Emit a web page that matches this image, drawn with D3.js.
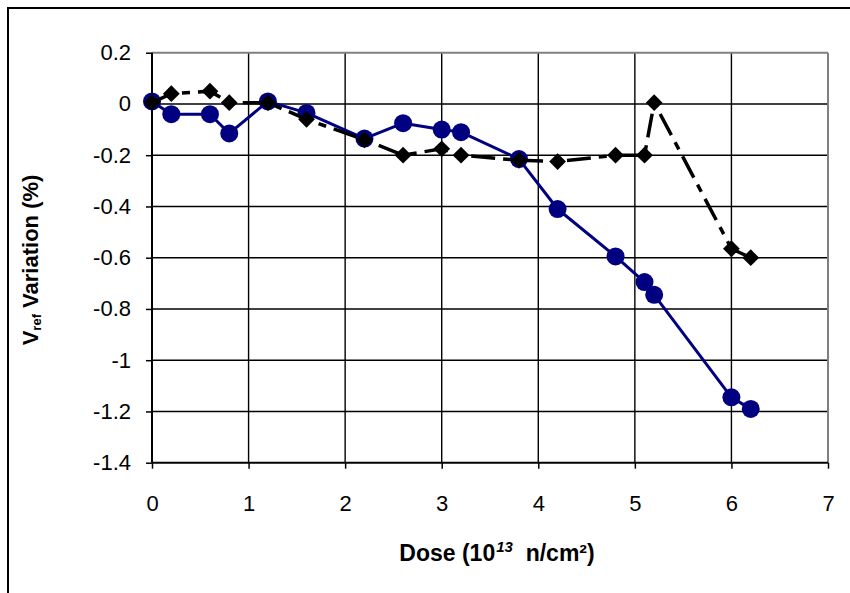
<!DOCTYPE html>
<html>
<head>
<meta charset="utf-8">
<script src="https://cdn.jsdelivr.net/npm/d3@7"></script>
<style>
  html, body { margin: 0; padding: 0; background: #fff; }
  svg { display: block; }
  text { font-family: "Liberation Sans", Arial, sans-serif; fill: #000; }
</style>
</head>
<body>
<svg id="chart" width="850" height="593"></svg>
<script>
// ---- data ----
const doseA = [0, 0.2, 0.6, 0.8, 1.2, 1.6, 2.2, 2.6, 3.0, 3.2, 3.8, 4.2, 4.8, 5.1, 5.2, 6.0, 6.2];
const vrefA = [0.01, -0.04, -0.04, -0.115, 0.01, -0.035, -0.135, -0.075, -0.1, -0.11, -0.215, -0.41, -0.595, -0.695, -0.745, -1.145, -1.19];
const doseB = [0, 0.2, 0.6, 0.8, 1.2, 1.6, 2.2, 2.6, 3.0, 3.2, 3.8, 4.2, 4.8, 5.1, 5.2, 6.0, 6.2];
const vrefB = [0.005, 0.04, 0.05, 0.005, 0.005, -0.06, -0.14, -0.2, -0.175, -0.2, -0.22, -0.225, -0.2, -0.2, 0.005, -0.565, -0.6];
const xTicks = [0, 1, 2, 3, 4, 5, 6, 7];
const yTicks = [0.2, 0, -0.2, -0.4, -0.6, -0.8, -1, -1.2, -1.4];
const yTickLabels = ["0.2", "0", "-0.2", "-0.4", "-0.6", "-0.8", "-1", "-1.2", "-1.4"];

// ---- layout ----
const svg = d3.select("#chart");
const L = 152, R = 828, T = 52.7, B = 462.7;
const x = d3.scaleLinear().domain([0, 7]).range([L, R]);
const y = d3.scaleLinear().domain([-1.4, 0.2]).range([B, T]);

// outer frame
svg.append("rect").attr("x", 8).attr("y", 8).attr("width", 900).attr("height", 700)
  .attr("fill", "none").attr("stroke", "#000").attr("stroke-width", 2);

// gridlines
const grid = svg.append("g");
grid.selectAll("line.h").data(yTicks.slice(1, -1)).join("line")
  .attr("x1", L).attr("x2", R).attr("y1", d => y(d)).attr("y2", d => y(d))
  .attr("stroke", "#000").attr("stroke-width", 1.4);
grid.selectAll("line.v").data(xTicks.slice(1, -1)).join("line")
  .attr("y1", T).attr("y2", B).attr("x1", d => x(d)).attr("x2", d => x(d))
  .attr("stroke", "#000").attr("stroke-width", 1.4);

// plot border top/right (gray)
svg.append("line").attr("x1", L).attr("x2", R).attr("y1", T).attr("y2", T)
  .attr("stroke", "#808080").attr("stroke-width", 2);
svg.append("line").attr("x1", R).attr("x2", R).attr("y1", T).attr("y2", B)
  .attr("stroke", "#808080").attr("stroke-width", 2);

// axes
const xAxis = d3.axisBottom(x).tickValues(xTicks).tickSize(6).tickPadding(27).tickFormat(d3.format("d"));
const yAxis = d3.axisLeft(y).tickValues(yTicks).tickSize(6).tickPadding(15)
  .tickFormat((d, i) => yTickLabels[i]);

const gx = svg.append("g").attr("transform", `translate(0,${B})`).call(xAxis);
const gy = svg.append("g").attr("transform", `translate(${L},0)`).call(yAxis);
[gx, gy].forEach(g => {
  g.select(".domain").attr("stroke", "#000").attr("stroke-width", 2);
  g.selectAll(".tick line").attr("stroke", "#000").attr("stroke-width", 1.5);
  g.selectAll(".tick text").attr("font-size", 22).attr("font-family", "Liberation Sans, Arial, sans-serif").attr("fill", "#000");
});
gx.select(".domain").attr("d", `M${L},0H${R}`);
gy.select(".domain").attr("d", `M0,${B}V${T}`);

// series A (navy circles, solid line)
const ptsA = doseA.map((d, i) => [d, vrefA[i]]);
const ptsB = doseB.map((d, i) => [d, vrefB[i]]);
const line = d3.line().x(d => x(d[0])).y(d => y(d[1]));

svg.append("path").attr("d", line(ptsA)).attr("fill", "none")
  .attr("stroke", "#000080").attr("stroke-width", 3).attr("stroke-linejoin", "round");
svg.append("g").selectAll("circle").data(ptsA).join("circle")
  .attr("cx", d => x(d[0])).attr("cy", d => y(d[1])).attr("r", 9)
  .attr("fill", "#000080");

// series B (black diamonds, dashed line)
svg.append("path").attr("d", line(ptsB)).attr("fill", "none")
  .attr("stroke", "#000").attr("stroke-width", 3.5)
  .attr("stroke-dasharray", "24,8,8,8");
const sym = d3.symbol().type(d3.symbolDiamond2).size(180);
svg.append("g").selectAll("path").data(ptsB).join("path")
  .attr("d", sym)
  .attr("transform", d => `translate(${x(d[0])},${y(d[1])})`)
  .attr("fill", "#000");

// axis titles
const xt = svg.append("text").attr("x", 497).attr("y", 561)
  .attr("text-anchor", "middle").attr("font-size", 23).attr("font-weight", "bold");
xt.append("tspan").text("Dose (10");
xt.append("tspan").attr("font-size", 15).attr("font-style", "italic").attr("dy", -9).attr("dx", 1).text("13");
xt.append("tspan").attr("dy", 9).text("\u00a0 n/cm\u00b2)");

const yt = svg.append("text").attr("transform", "translate(38,260) rotate(-90)")
  .attr("text-anchor", "middle").attr("font-size", 22).attr("font-weight", "bold");
yt.append("tspan").text("V");
yt.append("tspan").attr("font-size", 13).attr("dy", 3).text("ref");
yt.append("tspan").attr("dy", -3).text(" Variation (%)");
</script>
</body>
</html>
